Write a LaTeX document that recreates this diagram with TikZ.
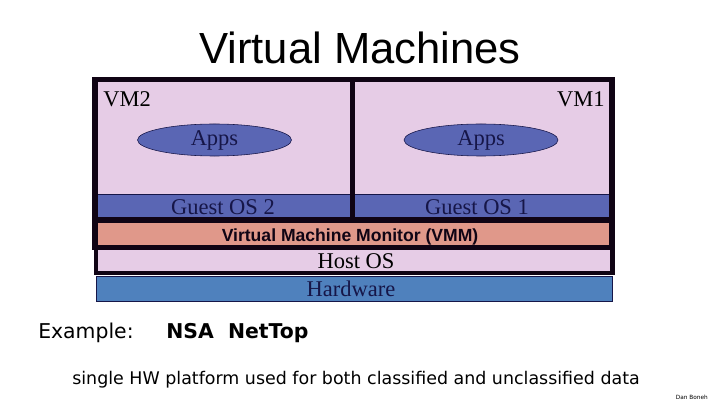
\documentclass[tikz,border=0pt]{standalone}
\usepackage{fontspec}
\setmainfont{Liberation Serif}
\newfontfamily\arialfont{Liberation Sans}
\newfontfamily\tahomafont{DejaVu Sans}
\usepackage{tikz}
\usetikzlibrary{shapes.geometric, positioning}

\definecolor{vmpink}{RGB}{230,204,230}
\definecolor{osblue}{RGB}{90,102,180}
\definecolor{vmmsalmon}{RGB}{224,152,138}
\definecolor{hwblue}{RGB}{79,129,189}
\definecolor{navytext}{RGB}{22,22,72}
\definecolor{framedark}{RGB}{16,4,20}

\begin{document}
\begin{tikzpicture}[x=0.025cm, y=-0.025cm,
    layertext/.style={font=\fontsize{16}{19}\selectfont, inner sep=0pt},
    appsblob/.style={ellipse, draw=navytext, fill=osblue, minimum width=3.85cm,
        minimum height=0.8cm, inner sep=0pt, font=\fontsize{16}{19}\selectfont, text=navytext},
    slidetext/.style={font=\tahomafont\fontsize{14.5}{17}\selectfont, inner sep=0pt}]
    \useasboundingbox (0,0) rectangle (720,405);
    % Title
    \node[font=\arialfont\fontsize{31}{36}\selectfont, inner sep=0pt, anchor=base] (title) at (360,63.5) {Virtual Machines};
    % Two virtual machines on the monitor
    \fill[vmpink] (95,80) rectangle (612,247);
    \filldraw[fill=osblue, draw=navytext, line width=0.5pt] (97,194) rectangle (352,218);
    \filldraw[fill=osblue, draw=navytext, line width=0.5pt] (353,194) rectangle (610,218);
    \fill[vmmsalmon] (95,221) rectangle (612,247);
    \draw[framedark, line width=4.3pt] (95,220) -- (612,220);
    \draw[framedark, line width=4pt] (352.5,80) -- (352.5,220);
    \draw[framedark, line width=4.1pt] (95,79.5) rectangle (612,247.5);
    % Host OS and hardware
    \filldraw[fill=vmpink, draw=framedark, line width=3.2pt] (96,247.5) rectangle (612.5,273);
    \filldraw[fill=hwblue, draw=navytext, line width=0.5pt] (96,276) rectangle (612.5,301);
    \node[appsblob] (apps2) at (214.5,140) {Apps};
    \node[appsblob] (apps1) at (481,140) {Apps};
    \node[layertext, anchor=base west] (vm2) at (103,107) {VM2};
    \node[layertext, anchor=base east] (vm1) at (605,107) {VM1};
    \node[layertext, anchor=base, text=navytext] (guest2) at (223,215) {Guest OS 2};
    \node[layertext, anchor=base, text=navytext] (guest1) at (477,215) {Guest OS 1};
    \node[font=\arialfont\bfseries\fontsize{12.5}{15}\selectfont, inner sep=0pt, anchor=base,
        text=framedark] (vmm) at (350,241) {Virtual Machine Monitor (VMM)};
    \node[layertext, anchor=base] (hostos) at (356,268.5) {Host OS};
    \node[layertext, anchor=base, text=navytext] (hw) at (351,296.5) {Hardware};
    % Example text below
    \node[slidetext, anchor=base west] (example) at (38,338) {Example:};
    \node[slidetext, font=\tahomafont\bfseries\fontsize{14.5}{17}\selectfont, anchor=base west] (nettop) at (166,338) {NSA~~NetTop};
    \node[slidetext, font=\tahomafont\fontsize{12.4}{15}\selectfont, anchor=base west] (single) at (72,384) {single HW platform used for both classified and unclassified data};
    \node[slidetext, font=\tahomafont\fontsize{4.1}{5}\selectfont, anchor=base east] (author) at (708,399) {Dan Boneh};
\end{tikzpicture}
\end{document}
